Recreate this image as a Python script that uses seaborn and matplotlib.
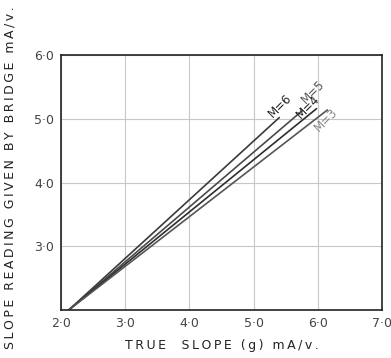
import matplotlib
matplotlib.use("Agg")
import matplotlib.pyplot as plt
import seaborn as sns
import pandas as pd

# ---- data ----
m_values = ["M=6", "M=5", "M=4", "M=3"]
start_true = [2.12, 2.12, 2.12, 2.12]
start_reading = [2.0, 2.0, 2.0, 2.0]
end_true = [5.40, 5.76, 5.98, 6.15]
end_reading = [5.02, 5.13, 5.16, 5.14]
x_ticks = [2.0, 3.0, 4.0, 5.0, 6.0, 7.0]
y_ticks = [3.0, 4.0, 5.0, 6.0]
x_tick_labels = ["2·0", "3·0", "4·0", "5·0", "6·0", "7·0"]
y_tick_labels = ["3·0", "4·0", "5·0", "6·0"]
x_label = "TRUE  SLOPE (g) mA/v."
y_label = "SLOPE READING GIVEN BY BRIDGE mA/v."

rows = []
for m, x0, y0, x1, y1 in zip(m_values, start_true, start_reading, end_true, end_reading):
    rows.append({"M": m, "true": x0, "reading": y0})
    rows.append({"M": m, "true": x1, "reading": y1})
df = pd.DataFrame(rows)

sns.set_theme(style="white")
plt.rcParams["font.family"] = ["DejaVu Sans"]


def spaced(s):
    return "\u2009".join(s)


fig = plt.figure(figsize=(3.91, 3.58), dpi=100)
ax = fig.add_axes([0.156, 0.134, 0.821, 0.712])

palette = {"M=6": "#3a3a3a", "M=5": "#4a4a4a", "M=4": "#2e2e2e", "M=3": "#555555"}
sns.lineplot(data=df, x="true", y="reading", hue="M", palette=palette,
             linewidth=1.2, legend=False, ax=ax, sort=False, estimator=None)

ax.set_xlim(2.0, 7.0)
ax.set_ylim(2.0, 6.0)
ax.set_xticks(x_ticks)
ax.set_xticklabels(x_tick_labels)
ax.set_yticks(y_ticks)
ax.set_yticklabels(y_tick_labels)
ax.grid(True, color="#c8c8c8", linewidth=0.8)
ax.tick_params(length=0, labelsize=9, colors="#444444", pad=5)
for s in ax.spines.values():
    s.set_color("#222222")
    s.set_linewidth(1.2)

ax.set_xlabel(spaced(x_label), fontsize=9, color="#222222")
ax.xaxis.set_label_coords(0.5, -0.115)
ax.set_ylabel(spaced(y_label), fontsize=9, color="#222222")
ax.yaxis.set_label_coords(-0.14, 0.52)

label_pos = [(5.30, 5.01), (5.81, 5.24), (5.74, 4.99), (6.02, 4.80)]
label_col = ["#222222", "#555555", "#222222", "#888888"]
for m, (lx, ly), c in zip(m_values, label_pos, label_col):
    ax.text(lx, ly, m, rotation=45, rotation_mode="anchor", ha="left",
            va="baseline", fontsize=8.5, color=c)

fig.savefig("out.png", dpi=100)
